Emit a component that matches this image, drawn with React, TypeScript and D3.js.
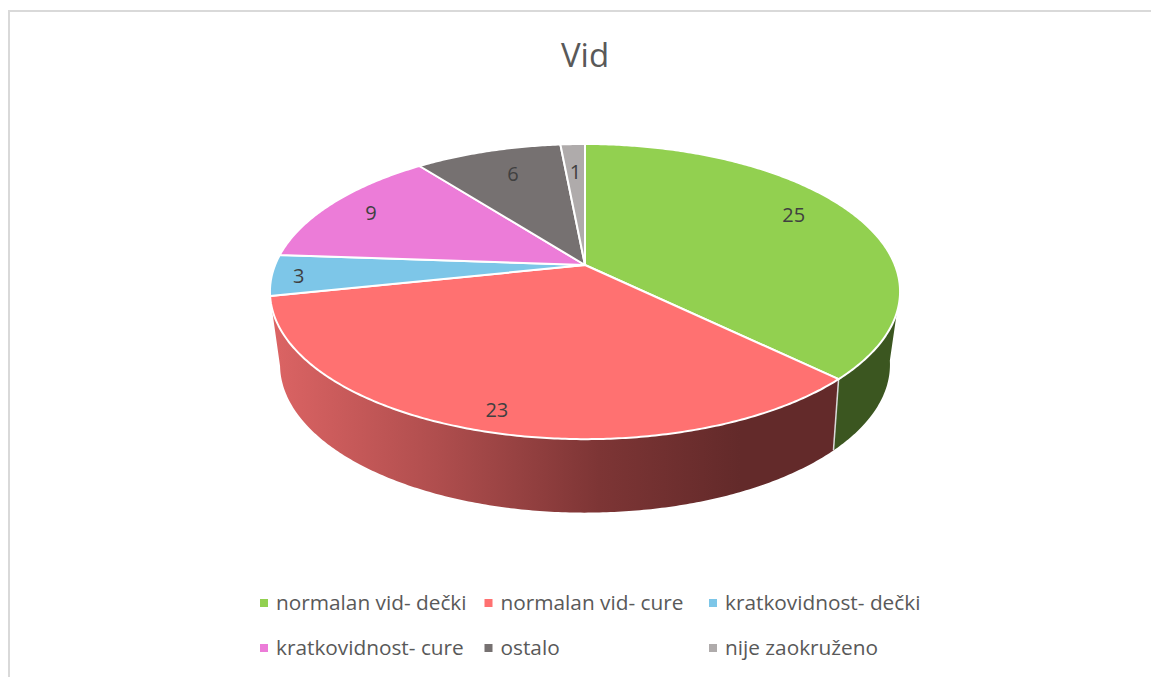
import React from "react";
import * as d3 from "d3";

// Vid - 3D pie, perspective worked out from the top and bottom ellipse of the picture

const categories = ["normalan vid- dečki", "normalan vid- cure", "kratkovidnost- dečki", "kratkovidnost- cure", "ostalo", "nije zaokruženo"];
const values = [25, 23, 3, 9, 6, 1];
const colors = ["#92d050", "#ff7171", "#7dc6e8", "#ec7cd8", "#767171", "#afabab"];

// label placement, along the slice and then up/down
const labelRadius = [0.77, 0.87, 0.915, 0.84, 0.71, 0.75];
const labelDy = [-10, 4.5, 2, 1, -7, 1];

const width = 1151;
const height = 677;

const topFace = { cx: 585, cy: 265, a: 309.9, b: 142.8, k: 0.18 };
const bottomFace = { cx: 585, cy: 335, a: 298.8, b: 142.1, k: 0.2 };

type Face = typeof topFace;

const project = (f: Face, angle: number, r = 1): [number, number] => {
    const u = Math.sin(angle) * r;
    const v = -Math.cos(angle) * r;
    const w = 1 - f.k * v;
    return [f.cx + (f.a * u) / w, f.cy + (f.b * v) / w];
};

const arcPoints = (f: Face, a0: number, a1: number) => {
    const n = Math.max(2, Math.ceil(Math.abs(a1 - a0) / 0.01));
    return d3.range(n + 1).map(i => project(f, a0 + ((a1 - a0) * i) / n));
};

const line = d3.line();

const slices = d3.pie<number>().sort(null)(values);

// the wall shows from the right tangent to the left tangent
const wallStart = (100 * Math.PI) / 180;
const wallEnd = slices[1].endAngle;

const wallPath = (a0: number, a1: number) => {
    const from = Math.max(a0, wallStart);
    const to = Math.min(a1, wallEnd);
    return line([...arcPoints(topFace, from, to), ...arcPoints(bottomFace, to, from)]) + "Z";
};

const legendColumns = d3.scalePoint<number>().domain([0, 1, 2]).range([260, 709]);
const legendRows = d3.scalePoint<number>().domain([0, 1]).range([603, 648]);

const App = () => {
    return (
        <svg width={width} height={height} style={{ position: "absolute", left: 0, top: 0, background: "#fff" }} fontFamily="'Open Sans', sans-serif">
            <defs>
                <linearGradient id="wall-red" gradientUnits="userSpaceOnUse" x1={271} x2={740} y1={0} y2={0}>
                    <stop offset="0" stopColor="#dc6464" />
                    <stop offset="0.35" stopColor="#b04e4e" />
                    <stop offset="0.7" stopColor="#7d3535" />
                    <stop offset="1" stopColor="#632a2a" />
                </linearGradient>
            </defs>

            <path d={`M9,${height}V11H${width}`} fill="none" stroke="#d9d9d9" strokeWidth={2} />

            <text x={585} y={67} textAnchor="middle" fontSize={33} fill="#595959">Vid</text>

            {/* walls */}
            <path d={wallPath(slices[0].startAngle, slices[0].endAngle)} fill="#3b5620" />
            <path d={wallPath(slices[1].startAngle, slices[1].endAngle)} fill="url(#wall-red)" />
            <path d={line([project(topFace, slices[0].endAngle), project(bottomFace, slices[0].endAngle)]) ?? ""} stroke="#d9d9d9" strokeWidth={1.5} fill="none" />

            {/* top */}
            {slices.map((s, i) => (
                <path
                    key={categories[i]}
                    d={line([[topFace.cx, topFace.cy], ...arcPoints(topFace, s.startAngle, s.endAngle)]) + "Z"}
                    fill={colors[i]}
                    stroke="#fff"
                    strokeWidth={2}
                    strokeLinejoin="round"
                />
            ))}

            {slices.map((s, i) => {
                const [x, y] = project(topFace, (s.startAngle + s.endAngle) / 2, labelRadius[i]);
                return (
                    <text key={i} x={x} y={y + labelDy[i]} dy="0.35em" textAnchor="middle" fontSize={20} fill="#404040">
                        {values[i]}
                    </text>
                );
            })}

            {/* legend */}
            {categories.map((c, i) => {
                const x = legendColumns(i % 3) ?? 0;
                const y = legendRows(Math.floor(i / 3)) ?? 0;
                return (
                    <g key={c}>
                        <rect x={x} y={y - 4} width={8} height={8} fill={colors[i]} />
                        <text x={x + 16} y={y} dy="0.35em" fontSize={20.8} fill="#595959">{c}</text>
                    </g>
                );
            })}
        </svg>
    );
};

export default App;
